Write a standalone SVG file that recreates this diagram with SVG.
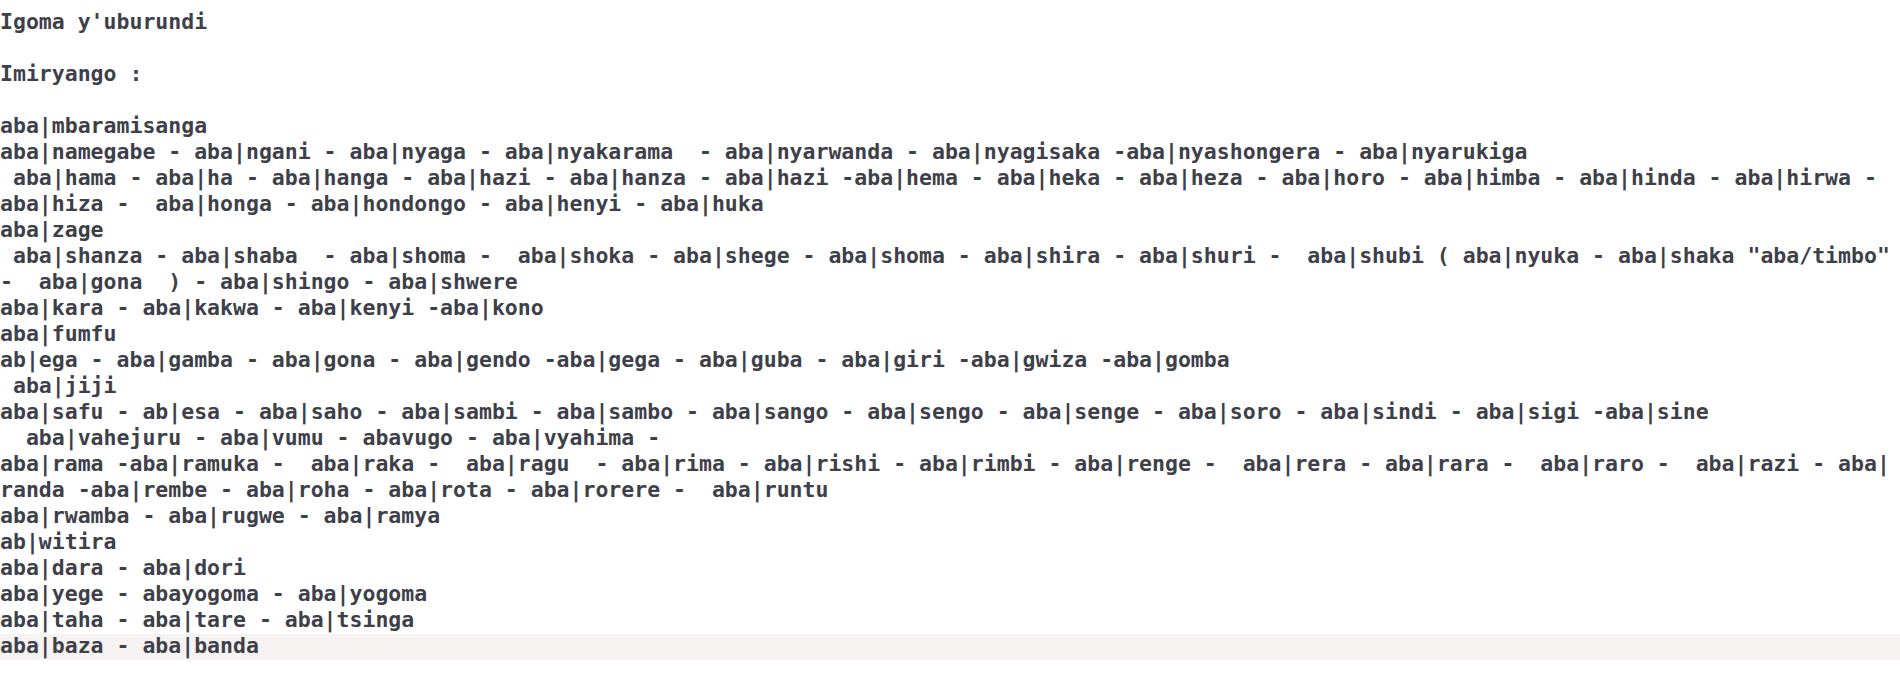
<svg xmlns="http://www.w3.org/2000/svg" width="1900" height="675" viewBox="0 0 1900 675">
<style>
text { font-family: "DejaVu Sans Mono", "Liberation Mono", monospace; font-weight: bold; font-size: 21.5px; fill: #3e4049; white-space: pre; }
</style>
<rect x="0" y="0" width="1900" height="675" fill="#ffffff"/>
<rect x="0" y="634" width="1900" height="26" fill="#f7f3f3"/>
<g id="lines" xml:space="preserve">
<text x="0" y="29">Igoma y'uburundi</text>
<text x="0" y="81">Imiryango :</text>
<text x="0" y="133">aba|mbaramisanga</text>
<text x="0" y="159">aba|namegabe - aba|ngani - aba|nyaga - aba|nyakarama  - aba|nyarwanda - aba|nyagisaka -aba|nyashongera - aba|nyarukiga</text>
<text x="0" y="185"> aba|hama - aba|ha - aba|hanga - aba|hazi - aba|hanza - aba|hazi -aba|hema - aba|heka - aba|heza - aba|horo - aba|himba - aba|hinda - aba|hirwa -</text>
<text x="0" y="211">aba|hiza -  aba|honga - aba|hondongo - aba|henyi - aba|huka</text>
<text x="0" y="237">aba|zage</text>
<text x="0" y="263"> aba|shanza - aba|shaba  - aba|shoma -  aba|shoka - aba|shege - aba|shoma - aba|shira - aba|shuri -  aba|shubi ( aba|nyuka - aba|shaka "aba/timbo"</text>
<text x="0" y="289">-  aba|gona  ) - aba|shingo - aba|shwere</text>
<text x="0" y="315">aba|kara - aba|kakwa - aba|kenyi -aba|kono</text>
<text x="0" y="341">aba|fumfu</text>
<text x="0" y="367">ab|ega - aba|gamba - aba|gona - aba|gendo -aba|gega - aba|guba - aba|giri -aba|gwiza -aba|gomba</text>
<text x="0" y="393"> aba|jiji</text>
<text x="0" y="419">aba|safu - ab|esa - aba|saho - aba|sambi - aba|sambo - aba|sango - aba|sengo - aba|senge - aba|soro - aba|sindi - aba|sigi -aba|sine</text>
<text x="0" y="445">  aba|vahejuru - aba|vumu - abavugo - aba|vyahima -</text>
<text x="0" y="471">aba|rama -aba|ramuka -  aba|raka -  aba|ragu  - aba|rima - aba|rishi - aba|rimbi - aba|renge -  aba|rera - aba|rara -  aba|raro -  aba|razi - aba|</text>
<text x="0" y="497">randa -aba|rembe - aba|roha - aba|rota - aba|rorere -  aba|runtu</text>
<text x="0" y="523">aba|rwamba - aba|rugwe - aba|ramya</text>
<text x="0" y="549">ab|witira</text>
<text x="0" y="575">aba|dara - aba|dori</text>
<text x="0" y="601">aba|yege - abayogoma - aba|yogoma</text>
<text x="0" y="627">aba|taha - aba|tare - aba|tsinga</text>
<text x="0" y="653">aba|baza - aba|banda</text>
</g>
</svg>
